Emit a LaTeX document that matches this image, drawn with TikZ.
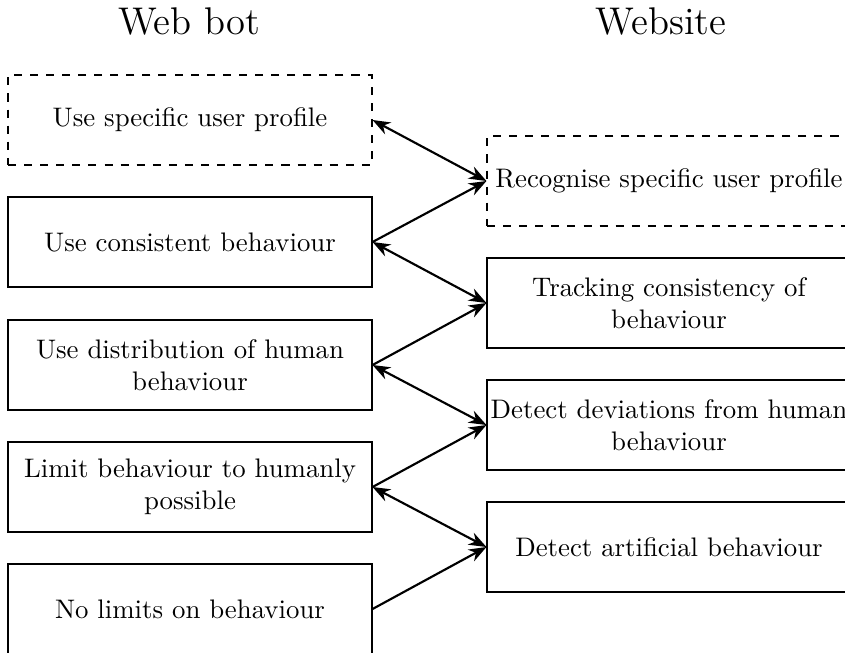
\documentclass[tikz,border=0pt]{standalone}
\usetikzlibrary{arrows.meta}
\begin{document}
\begin{tikzpicture}[x=0.373pt,y=-0.373pt,
  box/.style={draw, minimum width=364*0.373pt, minimum height=90*0.373pt,
    text width=358*0.373pt, align=flush center, inner sep=0pt, font=\normalsize},
  dbox/.style={box, dashed},
  title/.style={font=\Large},
  link/.style={thick, {Stealth}-{Stealth}},
  push/.style={thick, -{Stealth}}]
\useasboundingbox (0,0) rectangle (845,652);
\begin{scope}
\clip (0,0) rectangle (845,652);
% column titles
\node[title] (tbot) at (189,22) {Web bot};
\node[title] (tsite) at (661,22) {Website};
% web bot strategies
\node[dbox] (b1) at (190,120) {Use specific user profile};
\node[box]  (b2) at (190,242) {Use consistent behaviour};
\node[box]  (b3) at (190,365) {Use distribution of human behaviour};
\node[box]  (b4) at (190,487) {Limit behaviour to humanly possible};
\node[box]  (b5) at (190,609) {No limits on behaviour};
% website detection methods
\node[dbox] (s1) at (669,181) {Recognise specific user profile};
\node[box]  (s2) at (669,303) {Tracking consistency of behaviour};
\node[box]  (s3) at (669,425) {Detect deviations from human behaviour};
\node[box]  (s4) at (669,547) {Detect artificial behaviour};
% connectors
\draw[link] (b1.east) -- (s1.west);
\draw[push] (b2.east) -- (s1.west);
\draw[link] (b2.east) -- (s2.west);
\draw[push] (b3.east) -- (s2.west);
\draw[link] (b3.east) -- (s3.west);
\draw[push] (b4.east) -- (s3.west);
\draw[link] (b4.east) -- (s4.west);
\draw[push] (b5.east) -- (s4.west);
\end{scope}
\end{tikzpicture}
\end{document}
